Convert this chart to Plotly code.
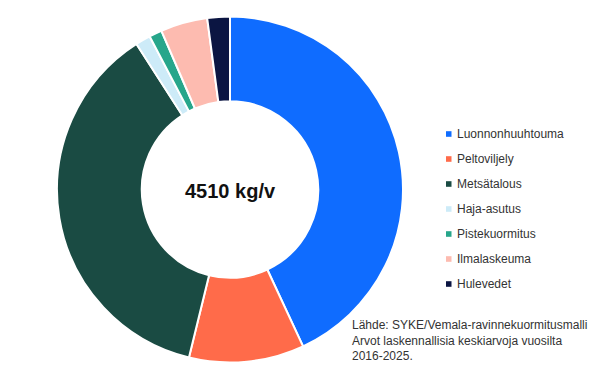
import plotly.graph_objects as go

labels = ["Luonnonhuuhtouma", "Peltoviljely", "Metsätalous", "Haja-asutus",
          "Pistekuormitus", "Ilmalaskeuma", "Hulevedet"]
values = [1942, 485, 1673, 63, 54, 198, 95]
colors = ["#0F6CFF", "#FF6B4A", "#1A4B43", "#CDEBF8", "#27A68B", "#FDBBB0", "#0B1542"]
total_text = "4510 kg/v"
source_lines = ["Lähde: SYKE/Vemala-ravinnekuormitusmalli",
                "Arvot laskennallisia keskiarvoja vuosilta",
                "2016-2025."]

# page body has an 8px margin; figure sized to fit window
OFF = 8
W, H = 584, 363


def px(x):
    return (x - OFF) / W


def py(y):
    return 1 - (y - OFF) / H


fig = go.Figure()
fig.add_trace(go.Pie(
    labels=labels, values=values, hole=0.51, sort=False, direction="clockwise",
    rotation=0, marker=dict(colors=colors, line=dict(color="white", width=2)),
    textinfo="none", hoverinfo="label+value+percent", showlegend=False,
    domain=dict(x=[px(57), px(403)], y=[py(363), py(16)]),
))

annotations = [dict(text=f"<b>{total_text}</b>", x=px(230), y=py(191), xref="paper", yref="paper",
                    showarrow=False, font=dict(size=20, color="#111", family="Liberation Sans"))]
shapes = []
y0 = 134
step = 25
for i, (lab, col) in enumerate(zip(labels, colors)):
    yc = y0 + i * step
    shapes.append(dict(type="rect", xref="paper", yref="paper",
                       x0=px(446), x1=px(451.5), y0=py(yc + 2.8), y1=py(yc - 2.8),
                       fillcolor=col, line=dict(width=0)))
    annotations.append(dict(text=lab, x=px(455), y=py(yc), xref="paper", yref="paper",
                            xanchor="left", yanchor="middle", showarrow=False,
                            font=dict(size=12, color="#333", family="Liberation Sans")))

annotations.append(dict(text="<br>".join(source_lines), x=px(350), y=py(316), xref="paper", yref="paper",
                        xanchor="left", yanchor="top", align="left", showarrow=False,
                        font=dict(size=12, color="#333", family="Liberation Sans")))

fig.update_layout(width=W, height=H, margin=dict(l=0, r=0, t=0, b=0),
                  paper_bgcolor="white", plot_bgcolor="white",
                  annotations=annotations, shapes=shapes)
fig.write_html("out.html")
